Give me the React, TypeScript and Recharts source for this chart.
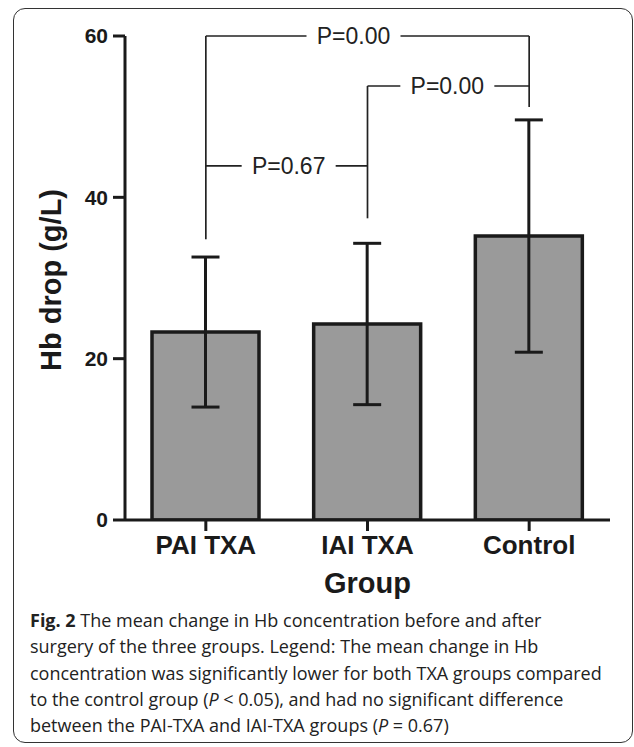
import React from 'react'
import { BarChart, Bar, XAxis, YAxis, ErrorBar, ReferenceLine } from 'recharts'

const groups = ['PAI TXA', 'IAI TXA', 'Control']
const means = [23.3, 24.3, 35.2]
const sds = [9.3, 10.0, 14.4]
const yTicks = [0, 20, 40, 60]

// significance brackets
const compareFrom = ['PAI TXA', 'IAI TXA', 'PAI TXA']
const compareTo = ['Control', 'Control', 'IAI TXA']
const compareY = [60, 53.8, 43.9]
const pValues = ['P=0.00', 'P=0.00', 'P=0.67']
const legGroup = ['PAI TXA', 'IAI TXA', 'Control']
const legTop = [60, 53.8, 60]
const legBottom = [34.8, 37.4, 51.2]

const data = groups.map((g, i) => ({ group: g, mean: means[i], sd: sds[i] }))

const INK = '#1a1a1a'
const SANS = '"Liberation Sans", Arial, Helvetica, sans-serif'
const labelShift = [-14, -1, 2]

function PLabel({ viewBox, text, shift }: any) {
  if (!viewBox) return null
  const cx = viewBox.x + viewBox.width / 2 + shift
  const cy = viewBox.y
  return (
    <g>
      <rect x={cx - 47} y={cy - 4} width={94} height={8} fill="#fff" />
      <text
        x={cx}
        y={cy + 8}
        textAnchor="middle"
        fontFamily={SANS}
        fontSize={23}
        fill="#222"
      >
        {text}
      </text>
    </g>
  )
}

export default function App() {
  return (
    <div style={{ position: 'absolute', left: 0, top: 0, width: 634, height: 747, background: '#fff' }}>
      <div
        style={{
          position: 'absolute',
          left: 13,
          top: 8,
          width: 618,
          height: 733,
          border: '1.5px solid #333',
          borderRadius: 12,
        }}
      />
      <div style={{ position: 'absolute', left: 0, top: 0 }}>
        <BarChart
          width={634}
          height={610}
          data={data}
          margin={{ top: 36, right: 24, bottom: 0, left: 0 }}
        >
          <YAxis
            width={125}
            domain={[0, 60]}
            ticks={yTicks}
            allowDataOverflow
            tickSize={12}
            tickMargin={5}
            axisLine={{ stroke: INK, strokeWidth: 3 }}
            tickLine={{ stroke: INK, strokeWidth: 3 }}
            tick={{ fill: INK, fontSize: 21, fontWeight: 700, fontFamily: SANS }}
            label={{
              content: ({ viewBox }: any) => {
                const cx = viewBox.x + viewBox.width / 2 - 12
                const cy = viewBox.y + viewBox.height / 2 + 2
                return (
                  <text
                    x={cx}
                    y={cy}
                    transform={`rotate(-90 ${cx} ${cy})`}
                    textAnchor="middle"
                    dy="0.36em"
                    fontFamily={SANS}
                    fontSize={29}
                    fontWeight={700}
                    fill={INK}
                  >
                    Hb drop (g/L)
                  </text>
                )
              },
            }}
          />
          <XAxis
            dataKey="group"
            height={90}
            tickSize={11}
            tickMargin={5}
            axisLine={{ stroke: INK, strokeWidth: 3 }}
            tickLine={{ stroke: INK, strokeWidth: 3 }}
            tick={{ fill: INK, fontSize: 26, fontWeight: 700, fontFamily: SANS }}
            label={{
              value: 'Group',
              position: 'insideBottom',
              offset: 17,
              fill: INK,
              fontSize: 29,
              fontWeight: 700,
              fontFamily: SANS,
            }}
          />
          <Bar
            dataKey="mean"
            barSize={107}
            fill="#9a9a9a"
            stroke={INK}
            strokeWidth={3.5}
            isAnimationActive={false}
          >
            <ErrorBar
              dataKey="sd"
              direction="y"
              width={14}
              stroke={INK}
              strokeWidth={3}
              isAnimationActive={false}
            />
          </Bar>
          {legGroup.map((g, i) => (
            <ReferenceLine
              key={'leg' + i}
              segment={[
                { x: g, y: legTop[i] },
                { x: g, y: legBottom[i] },
              ]}
              stroke="#222"
              strokeWidth={1.7}
            />
          ))}
          {compareY.map((y, i) => (
            <ReferenceLine
              key={'cmp' + i}
              segment={[
                { x: compareFrom[i], y },
                { x: compareTo[i], y },
              ]}
              stroke="#222"
              strokeWidth={1.7}
              label={(p: any) => <PLabel {...p} text={pValues[i]} shift={labelShift[i]} />}
            />
          ))}
        </BarChart>
      </div>
      <div
        style={{
          position: 'absolute',
          left: 30,
          top: 607,
          fontFamily: '"Open Sans", sans-serif',
          fontSize: 18,
          lineHeight: '26.3px',
          color: '#222',
          whiteSpace: 'nowrap',
        }}
      >
        <div>
          <b>Fig. 2</b> The mean change in Hb concentration before and after
        </div>
        <div>surgery of the three groups. Legend: The mean change in Hb</div>
        <div>concentration was significantly lower for both TXA groups compared</div>
        <div>
          to the control group (<i>P</i> &lt; 0.05), and had no significant difference
        </div>
        <div>
          between the PAI-TXA and IAI-TXA groups (<i>P</i> = 0.67)
        </div>
      </div>
    </div>
  )
}
